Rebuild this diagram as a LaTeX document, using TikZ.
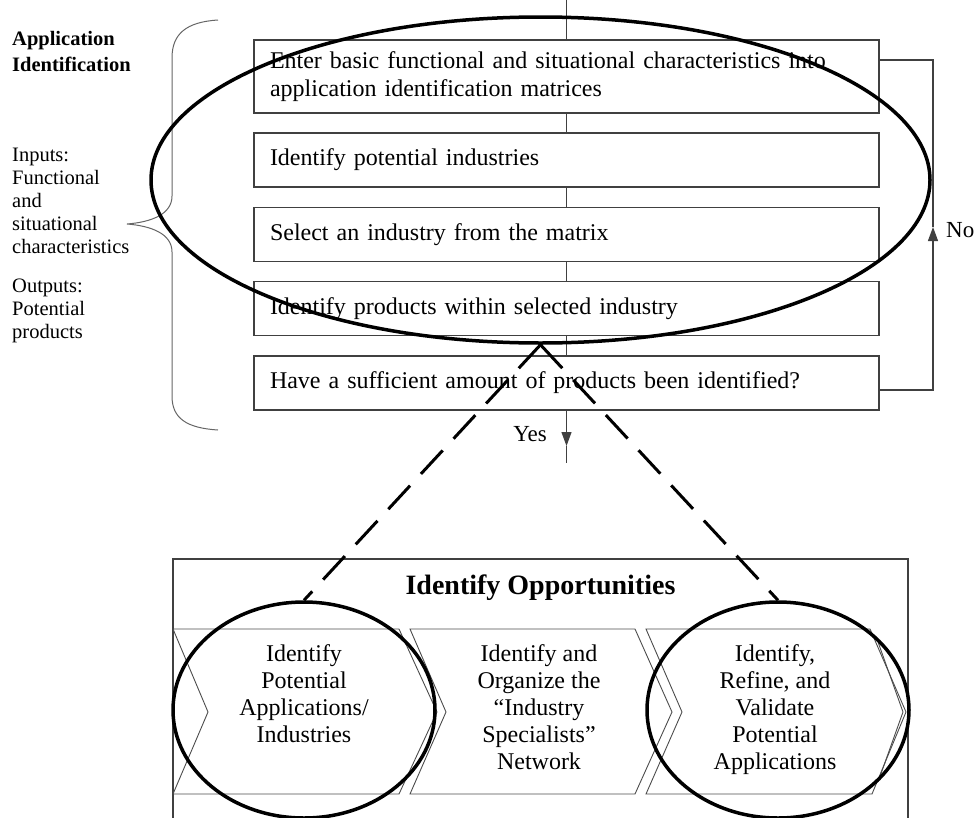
\documentclass[tikz,border=0pt]{standalone}
\usepackage{fontspec}
\setmainfont{Liberation Serif}
\usetikzlibrary{shapes.geometric,arrows.meta}
\definecolor{boxline}{gray}{0.25}
\definecolor{braceline}{gray}{0.4}
\definecolor{chevline}{gray}{0.3}
\begin{document}
\begin{tikzpicture}[x=1pt,y=-1pt,
  stepbox/.style={draw=boxline, line width=1.3pt, rectangle,
    minimum width=625pt, minimum height=54pt, inner xsep=16pt, inner ysep=0pt,
    text width=593pt, align=left, font=\fontsize{24}{28}\selectfont},
  flow/.style={draw=boxline, line width=1.2pt},
  tip/.style={-{Triangle[width=10pt,length=14pt]}},
  ring/.style={draw=black, line width=3.5pt, ellipse, inner sep=0pt},
  dashline/.style={draw=black, line width=3pt, dash pattern=on 32pt off 16pt},
  chev/.style={draw=chevline, line width=0.9pt},
  chevtext/.style={align=center, inner sep=0pt, anchor=north,
    font=\fontsize{24}{27}\selectfont},
  sidetext/.style={align=left, inner sep=0pt, anchor=north west,
    font=\fontsize{20.5}{23}\selectfont},
  lab/.style={inner sep=0pt, font=\fontsize{23}{26}\selectfont}]

\useasboundingbox (0,0) rectangle (975,817);
\clip (0,0) rectangle (975,817);

% side labels
\node[sidetext, font=\bfseries\fontsize{20.5}{26}\selectfont] (apptitle) at (12,31)
  {Application\\Identification};
\node[sidetext] (inputs) at (12,148)
  {Inputs:\\Functional\\and\\situational\\characteristics};
\node[sidetext] (outputs) at (12,279)
  {Outputs:\\Potential\\products};

% curly brace
\draw[braceline, line width=1pt]
  (218,20) .. controls (186,22) and (172,34) .. (172,58) -- (172,196)
  .. controls (172,214) and (152,222) .. (127,224)
  .. controls (152,226) and (172,234) .. (172,252) -- (172,396)
  .. controls (172,418) and (186,428) .. (218,430);

% process steps
\coordinate (top) at (566.5,0);
\node[stepbox, minimum height=73pt] (b1) at (566.5,76.5)
  {Enter basic functional and situational characteristics into\\application identification matrices};
\node[stepbox] (b2) at (566.5,160) {Identify potential industries};
\node[stepbox] (b3) at (566.5,234.5) {Select an industry from the matrix};
\node[stepbox] (b4) at (566.5,308.5) {Identify products within selected industry};
\node[stepbox] (b5) at (566.5,383) {Have a sufficient amount of products been identified?};

\draw[flow] (top) -- (b1.north);
\draw[flow] (b1.south) -- (b2.north);
\draw[flow] (b2.south) -- (b3.north);
\draw[flow] (b3.south) -- (b4.north);
\draw[flow] (b4.south) -- (b5.north);

% yes branch
\coordinate (yestip) at (566.5,446);
\coordinate (yesend) at (566.5,463);
\draw[flow, tip] (b5.south) -- (yestip);
\draw[flow] (yestip) -- (yesend);
\node[lab, anchor=east] (yes) at (547,434) {Yes};

% no loop
\coordinate (nobot) at (933,390);
\coordinate (notip) at (933,227);
\coordinate (notop) at (933,60);
\draw[flow, tip] (b5.east |- nobot) -- (nobot) -- (notip);
\draw[flow] (notip) -- (notop) -- (b1.east |- notop);
\node[lab, anchor=west] (no) at (946,230) {No};

% opportunities frame
\node[draw=boxline, line width=1.3pt, rectangle, minimum width=735pt,
  minimum height=300pt, inner sep=0pt] (oppframe) at (540.5,709) {};
\node[font=\bfseries\fontsize{28}{30}\selectfont, inner sep=0pt] (opptitle)
  at (540.5,588) {Identify Opportunities};

% chevron band
\draw[chev] (173,629) -- (399,629) -- (437,712) -- (399,794) -- (173,794) -- (208,712) -- cycle;
\draw[chev] (410,629) -- (635,629) -- (672,712) -- (635,794) -- (410,794) -- (446,712) -- cycle;
\draw[chev] (646,629) -- (870,629) -- (906,712) -- (872,794) -- (646,794) -- (682,712) -- cycle;
\draw[chev] (878,642) -- (903,712) -- (878,782);

\node[chevtext] (c1) at (304,644) {Identify\\Potential\\Applications/\\Industries};
\node[chevtext] (c2) at (539,644) {Identify and\\Organize the\\“Industry\\Specialists”\\Network};
\node[chevtext] (c3) at (775,644) {Identify,\\Refine, and\\Validate\\Potential\\Applications};

% highlight rings
\node[ring, minimum width=779pt, minimum height=326pt] (bigoval) at (540.5,180) {};
\node[ring, minimum width=262pt, minimum height=216pt] (leftoval) at (304,710) {};
\node[ring, minimum width=262pt, minimum height=216pt] (rightoval) at (778,710) {};

\draw[dashline] (bigoval.south) -- (leftoval.north);
\draw[dashline] (bigoval.south) -- (rightoval.north);
\end{tikzpicture}
\end{document}
